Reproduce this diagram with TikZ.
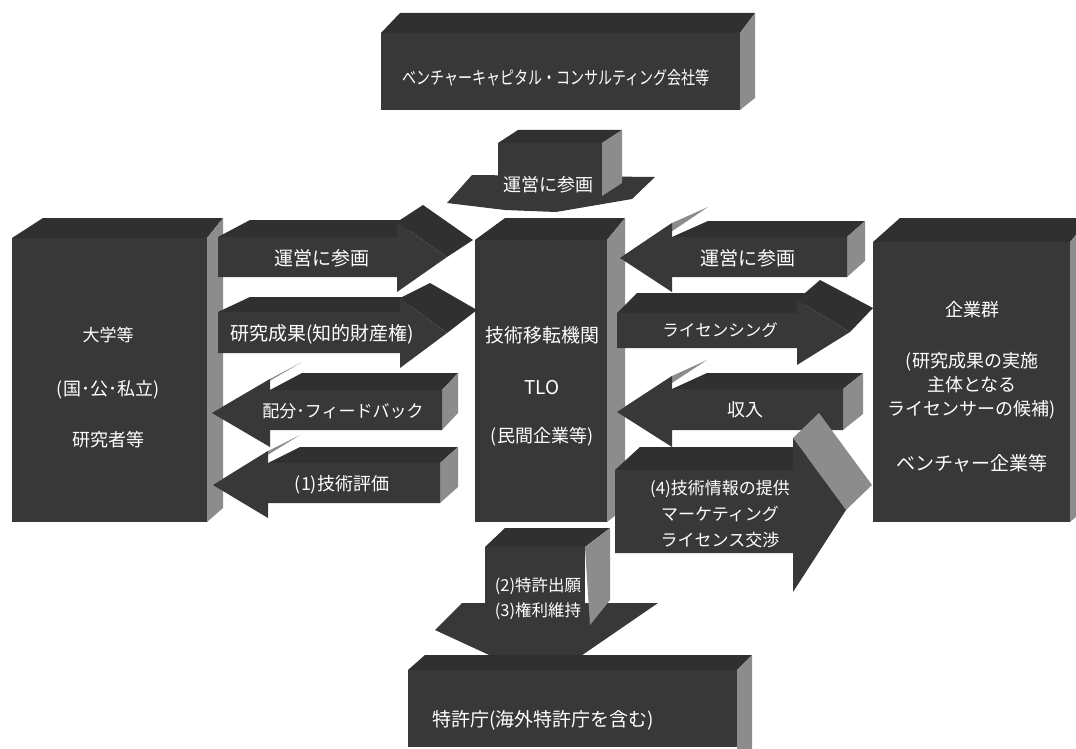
\documentclass[tikz,border=0pt]{standalone}
\usepackage{fontspec}
\newfontfamily\jp{Noto Sans CJK JP}
\definecolor{fc}{gray}{0.22}
\definecolor{tc}{gray}{0.19}
\definecolor{sc}{gray}{0.55}
\tikzset{
  front/.style={fill=fc},
  topf/.style={fill=tc},
  side/.style={fill=sc},
  lab/.style={text=white, font=\jp\fontsize{18}{25}\selectfont, inner sep=0pt, align=center},
  big/.style={font=\jp\fontsize{19}{25}\selectfont},
  small/.style={font=\jp\fontsize{16.5}{25}\selectfont}
}
\begin{document}
\begin{tikzpicture}[x=1pt,y=-1pt]
\useasboundingbox (0,0) rectangle (1076,749);
\clip (0,0) rectangle (1076,749);
\fill[white] (0,0) rectangle (1076,749);
% top box
\fill[topf] (381,33) -- (400,13) -- (755,13) -- (740,33) -- cycle;
\fill[side] (740,33) -- (755,13) -- (755,98) -- (740,110) -- cycle;
\fill[front] (381,33) rectangle (740,110);
\node[lab] (vc) at (556,78) {\scalebox{0.78}[1]{ベンチャーキャピタル・コンサルティング会社等}};
% top down arrow
\fill[front] (447,203) -- (472,175) -- (655,177) -- (632,199) -- (556,212) -- (505,210) -- cycle;
\fill[topf] (498,143) -- (518,130) -- (622,130) -- (602,143) -- cycle;
\fill[side] (602,143) -- (622,130) -- (622,183) -- (602,196) -- cycle;
\fill[front] (498,143) rectangle (602,180);
\node[lab] (d1) at (548,185) {運営に参画};
% left box
\fill[topf] (12,238) -- (43,218) -- (223,218) -- (207,238) -- cycle;
\fill[side] (207,238) -- (223,218) -- (223,508) -- (207,522) -- cycle;
\fill[front] (12,238) rectangle (207,522);
\node[lab,font=\jp\fontsize{17}{25}\selectfont] (u1) at (108,335) {大学等};
\node[lab] (u2) at (108,390) {(国･公･私立)};
\node[lab] (u3) at (108,440) {研究者等};
% TLO box
\fill[topf] (475,240) -- (505,218) -- (625,218) -- (607,240) -- cycle;
\fill[side] (607,240) -- (625,218) -- (625,508) -- (607,522) -- cycle;
\fill[front] (475,240) rectangle (607,522);
\node[lab,big] (t1) at (542,335) {技術移転機関};
\node[lab,big] (t2) at (542,388) {TLO};
\node[lab] (t3) at (542,437) {(民間企業等)};
% right box
\fill[topf] (873,242) -- (900,218) -- (1090,218) -- (1070,242) -- cycle;
\fill[side] (1070,242) -- (1090,218) -- (1090,505) -- (1070,522) -- cycle;
\fill[front] (873,242) rectangle (1070,522);
\node[lab] (c1) at (972,310) {企業群};
\node[lab,font=\jp\fontsize{18}{24}\selectfont] (c2) at (972,386) {(研究成果の実施\\主体となる\\ライセンサーの候補)};
\node[lab,big] (c3) at (972,463) {ベンチャー企業等};
% arrow a
\fill[topf] (218,237) -- (250,220) -- (423,220) -- (397,237) -- cycle;
\fill[topf] (397,222) -- (423,205) -- (473,240) -- (447,257) -- cycle;
\fill[front] (218,237) -- (397,237) -- (397,222) -- (447,257) -- (397,292) -- (397,277) -- (218,277) -- cycle;
\node[lab,big] (a1) at (322,258) {運営に参画};
% arrow b
\fill[topf] (218,312) -- (250,297) -- (430,297) -- (400,312) -- cycle;
\fill[topf] (400,298) -- (430,283) -- (477,310) -- (447,333) -- cycle;
\fill[front] (218,312) -- (400,312) -- (400,298) -- (447,333) -- (400,368) -- (400,353) -- (218,353) -- cycle;
\node[lab,big] (a2) at (322,334) {研究成果(知的財産権)};
% arrow c
\fill[topf] (270,390) -- (302,373) -- (458,373) -- (442,390) -- cycle;
\fill[side] (442,390) -- (458,373) -- (458,413) -- (442,430) -- cycle;
\fill[side] (212,413) -- (244,396) -- (302,362) -- (270,379) -- cycle;
\fill[front] (442,390) -- (270,390) -- (270,379) -- (212,413) -- (270,447) -- (270,430) -- (442,430) -- cycle;
\node[lab,font=\jp\fontsize{17}{25}\selectfont] (a3) at (343,411) {配分･フィードバック};
% arrow d
\fill[topf] (268,463) -- (300,447) -- (458,447) -- (440,463) -- cycle;
\fill[side] (440,463) -- (458,447) -- (458,487) -- (440,503) -- cycle;
\fill[side] (213,485) -- (245,469) -- (300,435) -- (268,451) -- cycle;
\fill[front] (440,463) -- (268,463) -- (268,451) -- (213,485) -- (268,518) -- (268,503) -- (440,503) -- cycle;
\node[lab] (a4) at (342,485) {(1)技術評価};
% arrow e
\fill[topf] (672,237) -- (708,221) -- (865,221) -- (847,237) -- cycle;
\fill[side] (847,237) -- (865,221) -- (865,261) -- (847,277) -- cycle;
\fill[side] (620,258) -- (656,242) -- (708,207) -- (672,223) -- cycle;
\fill[front] (847,237) -- (672,237) -- (672,223) -- (620,258) -- (672,292) -- (672,277) -- (847,277) -- cycle;
\node[lab,big] (b1) at (748,258) {運営に参画};
% arrow f
\fill[topf] (617,313) -- (637,293) -- (820,293) -- (797,313) -- cycle;
\fill[topf] (797,300) -- (820,280) -- (873,308) -- (850,332) -- cycle;
\fill[front] (617,313) -- (797,313) -- (797,300) -- (850,332) -- (797,365) -- (797,348) -- (617,348) -- cycle;
\node[lab,small] (b2) at (720,330) {ライセンシング};
% arrow g
\fill[topf] (672,389) -- (707,373) -- (863,373) -- (843,389) -- cycle;
\fill[side] (843,389) -- (863,373) -- (863,414) -- (843,430) -- cycle;
\fill[side] (617,412) -- (652,396) -- (707,360) -- (672,376) -- cycle;
\fill[front] (843,389) -- (672,389) -- (672,376) -- (617,412) -- (672,447) -- (672,430) -- (843,430) -- cycle;
\node[lab] (b3) at (745,410) {収入};
% arrow h
\fill[topf] (615,470) -- (640,447) -- (818,447) -- (793,470) -- cycle;
\fill[side] (793,438) -- (819,413) -- (872,485) -- (846,510) -- cycle;
\fill[front] (615,470) -- (793,470) -- (793,438) -- (846,510) -- (793,592) -- (793,553) -- (615,553) -- cycle;
\node[lab,font=\jp\fontsize{17}{26}\selectfont] (b4) at (720,514) {(4)技術情報の提供\\マーケティング\\ライセンス交渉};
% bottom down arrow
\fill[front] (435,630) -- (462,603) -- (658,603) -- (575,660) -- (500,660) -- cycle;
\fill[topf] (485,547) -- (505,528) -- (610,528) -- (585,547) -- cycle;
\fill[side] (585,547) -- (610,528) -- (610,600) -- (590,625) -- cycle;
\fill[front] (485,547) rectangle (585,620);
\node[lab,font=\jp\fontsize{16.5}{25}\selectfont] (d2) at (538,599) {(2)特許出願\\(3)権利維持};
% bottom box
\fill[topf] (408,670) -- (425,655) -- (752,655) -- (737,670) -- cycle;
\fill[side] (737,670) -- (752,655) -- (752,749) -- (737,749) -- cycle;
\fill[front] (408,670) rectangle (737,747);
\node[lab,big] (p1) at (543,720) {特許庁(海外特許庁を含む)};
\end{tikzpicture}
\end{document}
